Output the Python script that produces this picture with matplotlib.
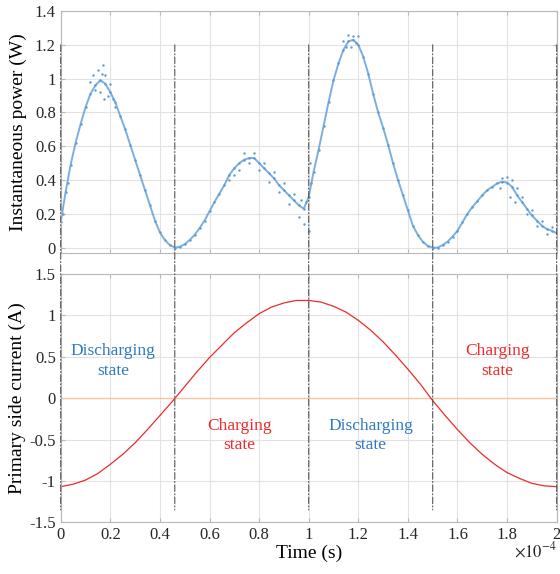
import numpy as np
import matplotlib
matplotlib.use("Agg")
import matplotlib.pyplot as plt
from matplotlib.patches import ConnectionPatch
from matplotlib.ticker import FuncFormatter

plt.rcParams['font.family'] = ['Liberation Serif', 'DejaVu Serif']
plt.rcParams['mathtext.fontset'] = 'stix'

# time axis in units of 1e-4 s
power_t = [0.00, 0.02, 0.04, 0.06, 0.08, 0.10, 0.12, 0.14, 0.16, 0.18,
           0.20, 0.22, 0.24, 0.26, 0.28, 0.30, 0.32, 0.34, 0.36, 0.38,
           0.40, 0.42, 0.44, 0.46, 0.48, 0.50, 0.52, 0.54, 0.56, 0.58,
           0.60, 0.62, 0.64, 0.66, 0.68, 0.70, 0.72, 0.74, 0.76, 0.78,
           0.80, 0.82, 0.84, 0.86, 0.88, 0.90, 0.92, 0.94, 0.96, 0.98,
           1.00, 1.02, 1.04, 1.06, 1.08, 1.10, 1.12, 1.14, 1.16, 1.18,
           1.20, 1.22, 1.24, 1.26, 1.28, 1.30, 1.32, 1.34, 1.36, 1.38,
           1.40, 1.42, 1.44, 1.46, 1.48, 1.50, 1.52, 1.54, 1.56, 1.58,
           1.60, 1.62, 1.64, 1.66, 1.68, 1.70, 1.72, 1.74, 1.76, 1.78,
           1.80, 1.82, 1.84, 1.86, 1.88, 1.90, 1.92, 1.94, 1.96, 1.98, 2.00]
power_w = [0.15, 0.33, 0.49, 0.62, 0.73, 0.83, 0.91, 0.96, 0.99, 0.97,
           0.92, 0.86, 0.78, 0.70, 0.61, 0.52, 0.43, 0.34, 0.25, 0.16,
           0.09, 0.045, 0.015, 0.0, 0.005, 0.02, 0.045, 0.075, 0.115, 0.16,
           0.215, 0.27, 0.32, 0.37, 0.43, 0.47, 0.50, 0.52, 0.53, 0.53,
           0.50, 0.47, 0.44, 0.41, 0.37, 0.34, 0.31, 0.28, 0.25, 0.23,
           0.30, 0.45, 0.58, 0.72, 0.86, 0.99, 1.09, 1.17, 1.22, 1.23,
           1.20, 1.13, 1.03, 0.91, 0.80, 0.71, 0.61, 0.50, 0.40, 0.31,
           0.22, 0.13, 0.075, 0.035, 0.01, 0.0, 0.0, 0.015, 0.035, 0.065,
           0.10, 0.15, 0.20, 0.24, 0.275, 0.31, 0.34, 0.36, 0.38, 0.39,
           0.385, 0.36, 0.31, 0.27, 0.23, 0.19, 0.16, 0.13, 0.11, 0.10, 0.085]

# scattered samples around the noisy parts of the measurement
noise_t = [0.01, 0.03, 0.12, 0.13, 0.14, 0.15, 0.16, 0.165, 0.17, 0.175,
           0.18, 0.19, 0.20, 0.21, 0.22, 0.68, 0.70, 0.72, 0.74, 0.76,
           0.78, 0.80, 0.82, 0.84, 0.86, 0.88, 0.90, 0.92, 0.94, 0.96,
           0.97, 0.98, 0.99, 1.00, 1.005, 1.01, 1.14, 1.15, 1.16, 1.17,
           1.18, 1.19, 1.20, 1.77, 1.78, 1.80, 1.81, 1.82, 1.83, 1.84,
           1.86, 1.88, 1.90, 1.92, 1.94, 1.96, 1.98]
noise_w = [0.20, 0.38, 0.98, 1.02, 0.93, 1.05, 0.92, 1.03, 1.08, 0.88,
           1.02, 0.90, 0.97, 0.88, 0.83, 0.40, 0.43, 0.46, 0.56, 0.50,
           0.56, 0.46, 0.50, 0.39, 0.45, 0.33, 0.38, 0.26, 0.32, 0.18,
           0.28, 0.14, 0.27, 0.10, 0.50, 0.38, 1.22, 1.19, 1.26, 1.19,
           1.25, 1.21, 1.25, 0.35, 0.41, 0.42, 0.30, 0.40, 0.27, 0.35,
           0.30, 0.20, 0.22, 0.13, 0.16, 0.08, 0.12]

current_t = [0.00, 0.05, 0.10, 0.15, 0.20, 0.25, 0.30, 0.35, 0.40, 0.45,
             0.50, 0.55, 0.60, 0.65, 0.70, 0.75, 0.80, 0.85, 0.90, 0.95,
             1.00, 1.05, 1.10, 1.15, 1.20, 1.25, 1.30, 1.35, 1.40, 1.45,
             1.50, 1.55, 1.60, 1.65, 1.70, 1.75, 1.80, 1.85, 1.90, 1.95, 2.00]
current_a = [-1.07, -1.04, -0.99, -0.91, -0.80, -0.68, -0.54, -0.38, -0.21, -0.04,
             0.14, 0.32, 0.49, 0.64, 0.79, 0.91, 1.02, 1.10, 1.15, 1.18,
             1.18, 1.16, 1.11, 1.04, 0.94, 0.82, 0.68, 0.52, 0.35, 0.17,
             -0.03, -0.21, -0.38, -0.54, -0.68, -0.80, -0.90, -0.97, -1.03, -1.06, -1.07]

# boundaries between charging / discharging states
state_edges = [0.0, 0.46, 1.0, 1.5, 2.0]
state_labels = ["Discharging\nstate", "Charging\nstate", "Discharging\nstate", "Charging\nstate"]
label_pos = [(0.21, 0.45), (0.72, -0.45), (1.25, -0.45), (1.76, 0.45)]

blue = '#5b9bd5'
txt_blue = '#2e79c0'
red = '#ee2a2a'
spine_col = '#b8b8b8'

fig = plt.figure(figsize=(5.6, 5.74), dpi=100)
ax1 = fig.add_axes([0.1084, 0.5598, 0.8857, 0.4210])
ax2 = fig.add_axes([0.1084, 0.0901, 0.8857, 0.4326])

for ax in (ax1, ax2):
    ax.grid(True, color='#e2e2e2', linewidth=0.8)
    ax.set_axisbelow(True)
    for s in ax.spines.values():
        s.set_color(spine_col)
        s.set_linewidth(0.8)
    ax.tick_params(direction='in', length=3, color=spine_col, labelsize=12,
                   labelcolor='#262626', top=True, right=True)
    ax.set_xlim(0, 2)
    ax.set_xticks(np.arange(0, 2.01, 0.2))
    ax.xaxis.set_major_formatter(FuncFormatter(lambda v, p: '%g' % round(v, 2)))
    ax.yaxis.set_major_formatter(FuncFormatter(lambda v, p: '%g' % round(v, 2)))

# power
ax1.plot(power_t, power_w, color=blue, linewidth=1.4, alpha=0.8)
ax1.scatter(power_t, power_w, s=3, color=blue, linewidths=0)
ax1.scatter(noise_t, noise_w, s=3, color=blue, linewidths=0)
ax1.set_ylim(-0.03, 1.4)
ax1.set_yticks(np.arange(0, 1.41, 0.2))
ax1.tick_params(labelbottom=False)
ax1.set_ylabel('Instantaneous power (W)', fontsize=14, labelpad=6)

# current
ax2.axhline(0, color='#f5c6a5', linewidth=1.0)
ax2.plot(current_t, current_a, color=red, linewidth=0.9)
ax2.set_ylim(-1.5, 1.5)
ax2.set_yticks(np.arange(-1.5, 1.51, 0.5))
ax2.set_ylabel('Primary side current (A)', fontsize=14, labelpad=2)
ax2.set_xlabel('Time (s)', fontsize=14, labelpad=1)

for lab, (x, y) in zip(state_labels, label_pos):
    col = txt_blue if lab.startswith('Dis') else red
    ax2.text(x, y, lab, color=col, fontsize=12.5, ha='center', va='center', linespacing=1.3)

for t in state_edges:
    con = ConnectionPatch(xyA=(t, 1.2), coordsA=ax1.transData,
                          xyB=(t, -1.35), coordsB=ax2.transData,
                          color='#555555', linestyle=(0, (6, 2, 1, 2)), linewidth=0.8)
    fig.add_artist(con)

fig.text(0.994, 0.022, r'$\times10^{-4}$', ha='right', va='bottom', fontsize=12, color='#262626')

fig.savefig('out.png', dpi=100)
